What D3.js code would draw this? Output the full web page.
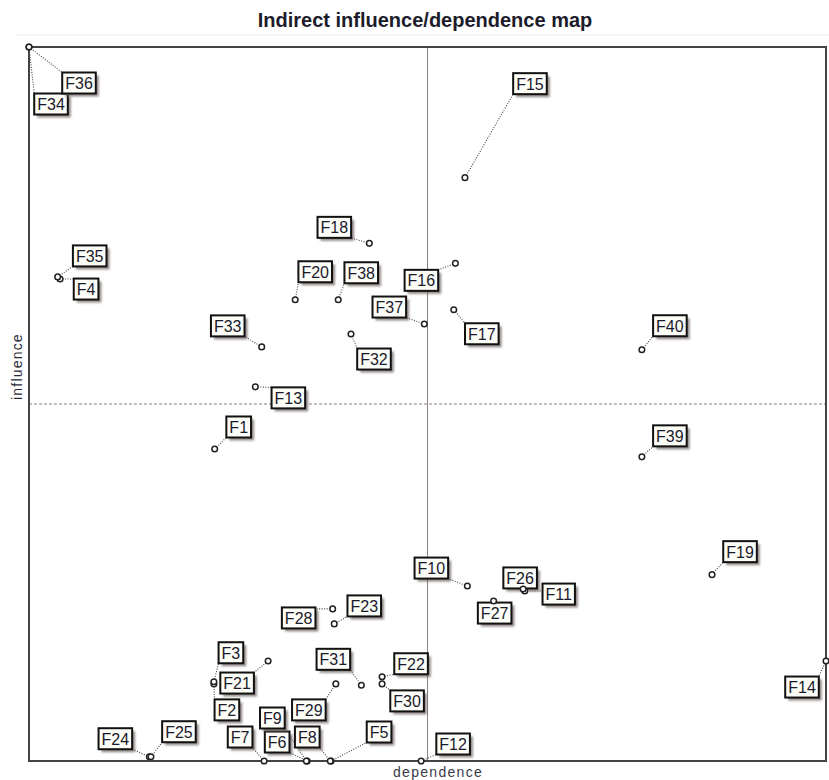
<!DOCTYPE html>
<html>
<head>
<meta charset="utf-8">
<script src="https://cdn.jsdelivr.net/npm/d3@7"></script>
<style>
  body { margin: 0; background: #fff; }
  text { font-family: "Liberation Sans", Arial, sans-serif; }
</style>
</head>
<body>
<div id="chart"></div>
<script>
// Variables (factors) and their indirect dependence / influence (0-100 scale)
const factors = ["F1", "F2", "F3", "F4", "F5", "F6", "F7", "F8", "F9", "F10",
  "F11", "F12", "F13", "F14", "F15", "F16", "F17", "F18", "F19", "F20",
  "F21", "F22", "F23", "F24", "F25", "F26", "F27", "F28", "F29", "F30",
  "F31", "F32", "F33", "F34", "F35", "F36", "F37", "F38", "F39", "F40"];
const dependence = [23.3, 23.2, 23.2, 3.9, 37.9, 34.9, 29.5, 37.8, 34.8, 55.0,
  62.2, 49.2, 28.4, 100, 54.7, 53.5, 53.3, 42.7, 85.7, 33.4,
  30.0, 44.3, 38.3, 15.1, 15.3, 62.0, 58.3, 38.1, 38.5, 44.3,
  41.7, 40.4, 29.2, 0, 3.6, 0, 49.6, 38.8, 76.9, 76.9];
const influence = [43.7, 10.8, 11.1, 67.5, 0, 0, 0, 0, 0, 24.5,
  23.8, 0, 52.4, 14.0, 81.7, 69.7, 63.2, 72.5, 26.1, 64.6,
  14.0, 11.8, 19.2, 0.6, 0.6, 24.1, 22.4, 21.3, 10.8, 10.8,
  10.6, 59.8, 58.0, 100, 67.8, 100, 61.2, 64.6, 42.6, 57.6];
// axes cross at the mean levels
const meanDependence = 50;
const meanInfluence = 50;

// Label placement (box centre relative to the point, in px)
const labelOffset = {
  F1: [24, -22], F2: [13, 26], F3: [17, -29], F4: [26, 10], F5: [48, -29],
  F6: [-30, -19], F7: [-24, -24], F8: [-23, -24], F9: [-34, -43], F10: [-36, -18],
  F11: [34, 3], F12: [32, -17], F13: [33, 11], F14: [-24, 26], F15: [65, -94],
  F16: [-34, 17], F17: [28, 24], F18: [-35, -16], F19: [28, -23], F20: [20, -28],
  F21: [-31, 22], F22: [29, -13], F23: [30, -18], F24: [-34, -18], F25: [28, -25],
  F26: [-3, -11], F27: [1, 12], F28: [-34, 9], F29: [-27, 26], F30: [25, 17],
  F31: [-28, -26], F32: [23, 25], F33: [-34, -21], F34: [22, 57], F35: [32, -21],
  F36: [50, 36], F37: [-35, -17], F38: [23, -27], F39: [28, -21], F40: [28, -24]
};

var width = 829;
var height = 780;
var margin = { top: 47, right: 3, bottom: 19, left: 29 };

var svg = d3
  .select("#chart")
  .append("svg")
  .attr("width", width)
  .attr("height", height);

// soft shadow for the label boxes
var defs = svg.append("defs");
var blur = defs.append("filter").attr("id", "shadow")
  .attr("x", "-30%").attr("y", "-30%").attr("width", "160%").attr("height", "160%");
blur.append("feGaussianBlur").attr("stdDeviation", 1.3);

var x = d3.scaleLinear().domain([0, 100]).range([margin.left, width - margin.right]);
var y = d3.scaleLinear().domain([0, 100]).range([height - margin.bottom, margin.top]);

var data = factors.map(function (f, i) {
  return { name: f, dep: dependence[i], inf: influence[i] };
});

// Title
svg.append("text")
  .attr("x", 425)
  .attr("y", 27)
  .attr("text-anchor", "middle")
  .style("font-size", "20px")
  .style("font-weight", "bold")
  .style("fill", "#1c1c2a")
  .text("Indirect influence/dependence map");

svg.append("line")
  .attr("x1", 15).attr("x2", width)
  .attr("y1", 35).attr("y2", 35)
  .attr("stroke", "#eee");

// Mean lines
svg.append("line")
  .attr("x1", x(meanDependence)).attr("x2", x(meanDependence))
  .attr("y1", y(100)).attr("y2", y(0))
  .attr("stroke", "#8a8080")
  .attr("stroke-width", 1);

svg.append("line")
  .attr("x1", x(0)).attr("x2", x(100))
  .attr("y1", y(meanInfluence)).attr("y2", y(meanInfluence))
  .attr("stroke", "#8a8080")
  .attr("stroke-width", 1)
  .attr("stroke-dasharray", "3,2");

// Frame
svg.append("rect")
  .attr("x", x(0)).attr("y", y(100))
  .attr("width", x(100) - x(0))
  .attr("height", y(0) - y(100))
  .attr("fill", "none")
  .attr("stroke", "#444")
  .attr("stroke-width", 2);

// Axis titles
svg.append("text")
  .attr("x", 393)
  .attr("y", 777)
  .style("font-size", "14px")
  .style("letter-spacing", "1.3px")
  .style("fill", "#3a3a48")
  .text("dependence");

svg.append("text")
  .attr("transform", "translate(22,400) rotate(-90)")
  .style("font-size", "14px")
  .style("letter-spacing", "1.2px")
  .style("fill", "#2a2a34")
  .text("influence");

// Work out label boxes
var boxH = 21;
var measure = svg.append("text").style("font-size", "16px");
data.forEach(function (d) {
  measure.text(d.name);
  d.tw = measure.node().getComputedTextLength();
  d.bw = d.tw + 6;
  d.px = x(d.dep);
  d.py = y(d.inf);
  d.cx = d.px + labelOffset[d.name][0];
  d.cy = d.py + labelOffset[d.name][1];
  d.x0 = d.cx - d.bw / 2;
  d.y0 = d.cy - boxH / 2;
});
measure.remove();

// Leader lines from point to nearest edge of its label box
svg.selectAll("leaders")
  .data(data)
  .enter()
  .append("line")
  .attr("x1", function (d) { return d.px; })
  .attr("y1", function (d) { return d.py; })
  .attr("x2", function (d) { return Math.max(d.x0, Math.min(d.px, d.x0 + d.bw)); })
  .attr("y2", function (d) { return Math.max(d.y0, Math.min(d.py, d.y0 + boxH)); })
  .attr("stroke", "#444")
  .attr("stroke-width", 1.1)
  .attr("stroke-dasharray", "1,1.5");

// Label boxes
var labels = svg.selectAll("labels")
  .data(data)
  .enter()
  .append("g");

labels.append("rect")
  .attr("x", function (d) { return d.x0 + 3; })
  .attr("y", function (d) { return d.y0 + 3; })
  .attr("width", function (d) { return d.bw; })
  .attr("height", boxH)
  .attr("fill", "#6e6460")
  .attr("opacity", 0.75)
  .attr("filter", "url(#shadow)");

labels.append("rect")
  .attr("x", function (d) { return d.x0; })
  .attr("y", function (d) { return d.y0; })
  .attr("width", function (d) { return d.bw; })
  .attr("height", boxH)
  .attr("fill", "#fdfdf8")
  .attr("stroke", "#111")
  .attr("stroke-width", 2);

labels.append("text")
  .attr("x", function (d) { return d.cx; })
  .attr("y", function (d) { return d.cy + 6; })
  .attr("text-anchor", "middle")
  .style("font-size", "16px")
  .style("fill", "#1a1a2c")
  .text(function (d) { return d.name; });

// Points
svg.selectAll("points")
  .data(data)
  .enter()
  .append("circle")
  .attr("cx", function (d) { return d.px; })
  .attr("cy", function (d) { return d.py; })
  .attr("r", 2.8)
  .attr("fill", "#fff")
  .attr("stroke", "#222")
  .attr("stroke-width", 1.5);
</script>
</body>
</html>
